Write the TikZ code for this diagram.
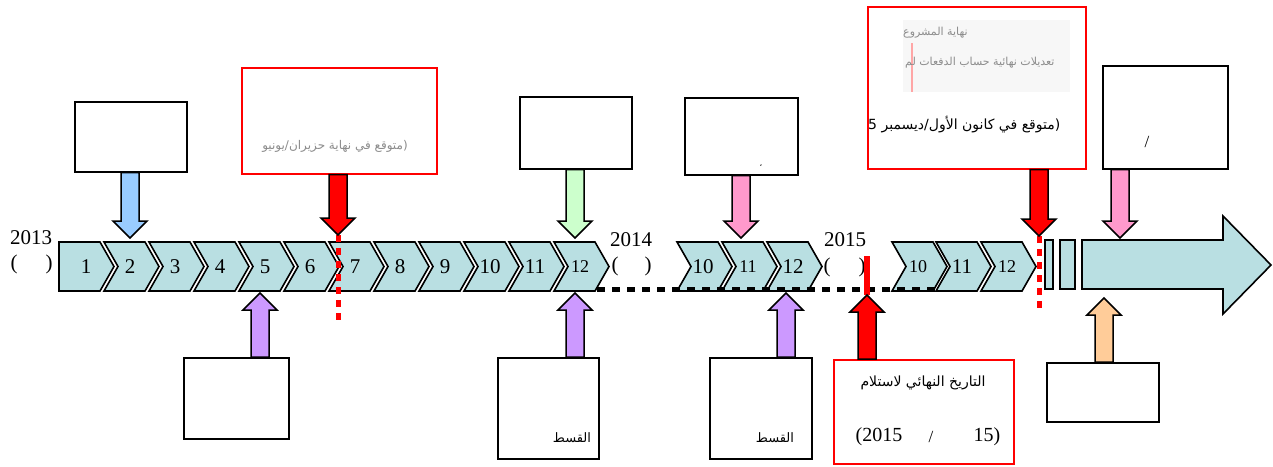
\documentclass[tikz,border=0pt]{standalone}
\usepackage{fontspec}
\setmainfont{Liberation Serif}
\newfontfamily\arabicfont[Script=Arabic]{DejaVu Sans}
\TeXXeTstate=1
\usetikzlibrary{calc}
\definecolor{chev}{RGB}{185,223,226}
\definecolor{ablue}{RGB}{153,204,255}
\definecolor{agreen}{RGB}{204,255,204}
\definecolor{apink}{RGB}{255,153,204}
\definecolor{apurple}{RGB}{204,153,255}
\definecolor{aorange}{RGB}{255,204,153}
\tikzset{
  chevshape/.style={draw=black, line width=1.6pt, fill=chev, line join=miter},
  plainbox/.style={draw=black, line width=1.6pt, fill=white, inner sep=0pt, anchor=north west},
  redbox/.style={draw=red, line width=1.6pt, fill=white, inner sep=0pt, anchor=north west},
  blockarr/.style={draw=black, line width=1.5pt, line join=miter},
  num/.style={font=\fontsize{21}{24}\selectfont, inner sep=0pt},
  smallnum/.style={font=\fontsize{18}{21}\selectfont, inner sep=0pt},
  artext/.style={font=\arabicfont\fontsize{13}{16}\selectfont, inner sep=0pt},
  fadetext/.style={font=\arabicfont\fontsize{11}{13}\selectfont, text=black!45, inner sep=0pt},
  blackdots/.style={draw=black, line width=5pt, dash pattern=on 8pt off 7pt},
  reddots/.style={draw=red, line width=5pt, dash pattern=on 7pt off 6pt},
  redline/.style={draw=red, line width=6pt},
}
\newcommand\chevron[4]{%
  \filldraw[chevshape] (#2,242) -- ++(41,0) -- ++(14,24.5) -- ++(-14,24.5) -- ++(-41,0) -- ++(14,-24.5) -- cycle;
  \node[#4] (#1) at (#2+26,266.5) {#3};}
\newcommand\darrow[3]{%
  \filldraw[blockarr, fill=#1] let \p1=#2, \p2=#3 in
    (\x2-9pt,\y1) -- (\x2+9pt,\y1) -- (\x2+9pt,\y2+17pt) -- (\x2+17pt,\y2+17pt) -- (\x2,\y2)
    -- (\x2-17pt,\y2+17pt) -- (\x2-9pt,\y2+17pt) -- cycle;}
\newcommand\uarrow[3]{%
  \filldraw[blockarr, fill=#1] let \p1=#2, \p2=#3 in
    (\x2-9pt,\y1) -- (\x2+9pt,\y1) -- (\x2+9pt,\y2-17pt) -- (\x2+17pt,\y2-17pt) -- (\x2,\y2)
    -- (\x2-17pt,\y2-17pt) -- (\x2-9pt,\y2-17pt) -- cycle;}
\begin{document}
\begin{tikzpicture}[x=1pt,y=-1pt]
\useasboundingbox (0,0) rectangle (1273,466);
\fill[white] (0,0) rectangle (1273,466);

% ---- group 1 chevrons
\filldraw[chevshape] (59,242) -- ++(41,0) -- ++(14,24.5) -- ++(-14,24.5) -- ++(-41,0) -- cycle;
\node[num] (c1) at (86,266.5) {1};
\chevron{c2}{104}{2}{num}
\chevron{c3}{149}{3}{num}
\chevron{c4}{194}{4}{num}
\chevron{c5}{239}{5}{num}
\chevron{c6}{284}{6}{num}
\chevron{c7}{329}{7}{num}
\chevron{c8}{374}{8}{num}
\chevron{c9}{419}{9}{num}
\chevron{c10}{464}{10}{num}
\chevron{c11}{509}{11}{num}
\chevron{c12}{554}{12}{smallnum}
% ---- group 2
\chevron{d10}{677}{10}{num}
\chevron{d11}{722}{11}{smallnum}
\chevron{d12}{767}{12}{num}
% ---- group 3
\chevron{e10}{892}{10}{smallnum}
\chevron{e11}{936}{11}{num}
\chevron{e12}{981}{12}{smallnum}
% ---- small bars and big arrow
\filldraw[chevshape] (1045,240) rectangle (1053,289);
\filldraw[chevshape] (1060,240) rectangle (1075,289);
\filldraw[chevshape] (1082,240) -- (1223,240) -- (1223,216) -- (1271,265) -- (1223,314) -- (1223,289) -- (1082,289) -- cycle;

% ---- year labels
\node[num] (y13) at (31,238) {2013};
\node[num] (y13a) at (14,264) {(};
\node[num] (y13b) at (49,264) {)};
\node[num] (y14) at (631,240) {2014};
\node[num] (y14a) at (615,266) {(};
\node[num] (y14b) at (648,266) {)};
\node[num] (y15) at (845,240) {2015};
\node[num] (y15a) at (827,267) {(};
\node[num] (y15b) at (862,267) {)};

% ---- dotted lines
\coordinate (k1) at (597,289);
\coordinate (k2) at (936,289);
\draw[blackdots] (k1) -- (k2);

% ---- boxes
\node[plainbox, minimum width=112pt, minimum height=70pt] (b1) at (74,101) {};
\node[redbox, minimum width=195pt, minimum height=106pt] (rb1) at (241,67) {};
\node[plainbox, minimum width=112pt, minimum height=72pt] (b2) at (519,96) {};
\node[plainbox, minimum width=113pt, minimum height=77pt] (b3) at (684,97) {};
\node[redbox, minimum width=218pt, minimum height=162pt] (rb2) at (867,6) {};
\node[plainbox, minimum width=125pt, minimum height=103pt] (b4) at (1102,65) {};
\node[plainbox, minimum width=105pt, minimum height=81pt] (b5) at (183,357) {};
\node[plainbox, minimum width=101pt, minimum height=101pt] (b6) at (497,357) {};
\node[plainbox, minimum width=102pt, minimum height=101pt] (b7) at (709,357) {};
\node[redbox, minimum width=180pt, minimum height=104pt] (rb3) at (833,359) {};
\node[plainbox, minimum width=112pt, minimum height=59pt] (b8) at (1046,362) {};

% ---- red marker lines
\coordinate (rt1) at (338,235);
\coordinate (rd1) at (338,326);
\draw[reddots] (rt1) -- (rd1);
\coordinate (rt2) at (1039,236);
\coordinate (rd2) at (1039,308);
\draw[reddots] (rt2) -- (rd2);
\coordinate (rs1) at (867,256);
\coordinate (ut4) at (867,295);
\draw[redline] (rs1) -- (ut4);

% ---- down arrows
\coordinate (dt1) at (130,238);
\darrow{ablue}{(b1.south)}{(dt1)}
\darrow{red}{(rb1.south)}{(rt1)}
\coordinate (dt3) at (575,238);
\darrow{agreen}{(b2.south)}{(dt3)}
\coordinate (dt4) at (741,238);
\darrow{apink}{(b3.south)}{(dt4)}
\darrow{red}{(rb2.south)}{(rt2)}
\coordinate (dt6) at (1120,238);
\darrow{apink}{(b4.south)}{(dt6)}

% ---- up arrows
\coordinate (ut1) at (260,293);
\uarrow{apurple}{(b5.north)}{(ut1)}
\coordinate (ut2) at (575,293);
\uarrow{apurple}{(b6.north)}{(ut2)}
\coordinate (ut3) at (786,293);
\uarrow{apurple}{(b7.north)}{(ut3)}
\uarrow{red}{(rb3.north)}{(ut4)}
\coordinate (ut5) at (1104,298);
\uarrow{aorange}{(b8.north)}{(ut5)}

% ---- texts in boxes
\node[fadetext, font=\arabicfont\fontsize{12}{14}\selectfont] (t1) at (335,146) {\beginR(متوقع في نهاية حزيران/يونيو\endR};
\fill[black!3] (903,20) rectangle (1070,92);
\draw[red!35, line width=1.5pt] (912,43) -- (912,92);
\node[fadetext, anchor=west] (t2) at (903,33) {\beginR نهاية المشروع\endR};
\node[fadetext, anchor=west] (t3) at (905,63) {\beginR تعديلات نهائية حساب الدفعات لم\endR};
\node[artext, anchor=west, font=\arabicfont\fontsize{14}{16}\selectfont] (t4) at (868,125) {5 \beginR متوقع في كانون الأول/ديسمبر\endR(};
\node[inner sep=0pt, font=\arabicfont\fontsize{8}{9}\selectfont] (t5) at (761,166) {\beginR،\endR};
\node[num, font=\fontsize{17}{20}\selectfont] (t6) at (1147,142) {/};
\node[artext] (t7) at (572,438) {\beginR القسط\endR};
\node[artext] (t8) at (775,438) {\beginR القسط\endR};
\node[artext, font=\arabicfont\fontsize{14}{16}\selectfont] (t9) at (923,383) {\beginR التاريخ النهائي لاستلام\endR};
\node[num, font=\fontsize{20}{24}\selectfont] (t10) at (879,437) {(2015};
\node[num, font=\fontsize{17}{20}\selectfont] (t11) at (931,437) {/};
\node[num, font=\fontsize{20}{24}\selectfont] (t12) at (987,437) {15)};
\end{tikzpicture}
\end{document}
